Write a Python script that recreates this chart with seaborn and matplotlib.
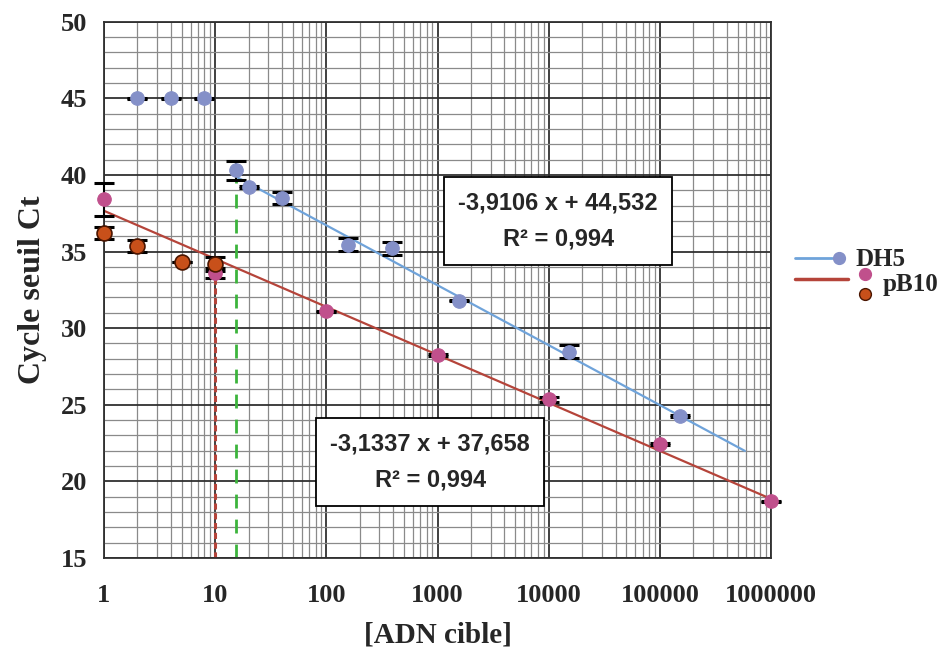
import numpy as np
import pandas as pd
import matplotlib
matplotlib.use("Agg")
import matplotlib.pyplot as plt
import matplotlib.ticker as mticker
from matplotlib.lines import Line2D
import seaborn as sns

# --- données ---
dh5_x = [2, 4, 8, 15.5, 20, 40, 157, 390, 1560, 15200, 151000]
dh5_ct = [45, 45, 45, 40.3, 39.2, 38.5, 35.45, 35.2, 31.8, 28.45, 24.25]
dh5_err = [0.05, 0.05, 0.05, 0.6, 0.05, 0.4, 0.42, 0.42, 0.05, 0.42, 0.05]

pb10_x = [1, 10, 100, 1000, 10000, 100000, 1000000]
pb10_ct = [38.4, 33.6, 31.1, 28.25, 25.35, 22.45, 18.7]
pb10_err = [1.05, 0.35, 0.05, 0.05, 0.15, 0.05, 0.05]

pb10b_x = [1, 2, 5, 10]
pb10b_ct = [36.2, 35.35, 34.3, 34.2]
pb10b_err = [0.4, 0.4, 0.0, 0.45]

# droites de tendance (Ct = a * log10(x) + b)
dh5_fit = (-3.9106, 44.532)
pb10_fit = (-3.1337, 37.658)
dh5_fit_range = [15.5, 582000]
pb10_fit_range = [1, 1000000]

# lignes de lecture verticales
ref_red = (10, 33.6)
ref_green = (15.5, 39.7)

xticks = [1, 10, 100, 1000, 10000, 100000, 1000000]
xticklabels = ["1", "10", "100", "1000", "10000", "100000", "1000000"]
yticks = [15, 20, 25, 30, 35, 40, 45, 50]

c_dh5 = "#8490C8"
c_dh5_line = "#6FA3DA"
c_pb10 = "#C0508C"
c_pb10b = "#C8501A"
c_red_line = "#B5443A"
c_green = "#3CB43C"

sns.set_style("white")
plt.rcParams["font.family"] = ["Liberation Serif", "DejaVu Serif"]

fig = plt.figure(figsize=(9.48, 6.55), dpi=100)
ax = fig.add_axes([0.1097, 0.1481, 0.7036, 0.8188])

ax.set_xscale("log")
ax.set_xlim(1, 1000000)
ax.set_ylim(15, 50)

# grille
ax.xaxis.set_minor_locator(mticker.LogLocator(base=10, subs=np.arange(2, 10)))
ax.yaxis.set_minor_locator(mticker.MultipleLocator(1))
ax.grid(which="major", color="#303030", lw=1.3, zorder=0)
ax.grid(which="minor", color="#8a8a8a", lw=0.9, zorder=0)
ax.set_axisbelow(True)
for s in ax.spines.values():
    s.set_color("#303030")
    s.set_linewidth(1.3)

# lignes de lecture
ax.plot([ref_red[0], ref_red[0]], [15, ref_red[1]], color=c_red_line, lw=2.2,
        ls=(0, (2, 1.2)), zorder=2)
ax.plot([ref_green[0], ref_green[0]], [15, ref_green[1]], color=c_green, lw=2,
        ls=(0, (5, 4)), zorder=2)

# droites de tendance
for fit, rng, col in [(dh5_fit, dh5_fit_range, c_dh5_line), (pb10_fit, pb10_fit_range, c_red_line)]:
    df_fit = pd.DataFrame({"x": rng, "y": [fit[0] * np.log10(v) + fit[1] for v in rng]})
    sns.lineplot(data=df_fit, x="x", y="y", color=col, lw=1.6, ax=ax, zorder=3)

# barres d'erreur (sous les points)
for xs, ys, es in [(dh5_x, dh5_ct, dh5_err), (pb10_x, pb10_ct, pb10_err), (pb10b_x, pb10b_ct, pb10b_err)]:
    ax.errorbar(xs, ys, yerr=es, fmt="none", ecolor="black", elinewidth=1.5,
                capsize=7, capthick=2.2, zorder=3.5, clip_on=False)

# points
df_dh5 = pd.DataFrame({"x": dh5_x, "ct": dh5_ct})
df_pb10 = pd.DataFrame({"x": pb10_x, "ct": pb10_ct})
df_pb10b = pd.DataFrame({"x": pb10b_x, "ct": pb10b_ct})

sns.scatterplot(data=df_dh5, x="x", y="ct", color=c_dh5, s=95, edgecolor=c_dh5,
                ax=ax, zorder=4, clip_on=False)
sns.scatterplot(data=df_pb10, x="x", y="ct", color=c_pb10, s=95, edgecolor=c_pb10,
                ax=ax, zorder=4, clip_on=False)
sns.scatterplot(data=df_pb10b, x="x", y="ct", color=c_pb10b, s=115, edgecolor="#4a1500",
                linewidth=1.2, ax=ax, zorder=4, clip_on=False)

# axes
ax.set_xticks(xticks)
ax.set_xticklabels(xticklabels)
ax.set_yticks(yticks)
ax.tick_params(axis="both", which="major", direction="out", length=5, width=1.2,
               color="#303030", labelsize=19)
ax.tick_params(axis="x", which="major", pad=14)
ax.tick_params(axis="y", which="major", pad=7)
ax.tick_params(axis="both", which="minor", direction="out", length=3, width=0.8, color="#8a8a8a")
for lab in ax.get_xticklabels() + ax.get_yticklabels():
    lab.set_fontweight("bold")

ax.set_xlabel("[ADN cible]", fontsize=21, fontweight="bold", labelpad=10)
ax.set_ylabel("Cycle seuil Ct", fontsize=23, fontweight="bold", labelpad=10)

# équations
box = dict(boxstyle="square,pad=0.6", fc="white", ec="black", lw=1.3)
ax.text(0.681, 0.628, "-3,9106 x + 44,532\nR² = 0,994", transform=ax.transAxes,
        ha="center", va="center", ma="center", fontsize=17, fontweight="bold",
        family=["Liberation Sans", "DejaVu Sans"], linespacing=1.75, bbox=box, zorder=6)
ax.text(0.489, 0.1786, "-3,1337 x + 37,658\nR² = 0,994", transform=ax.transAxes,
        ha="center", va="center", ma="center", fontsize=17, fontweight="bold",
        family=["Liberation Sans", "DejaVu Sans"], linespacing=1.75, bbox=box, zorder=6)

# légende
fig.add_artist(Line2D([0.8386, 0.8776], [0.606, 0.606], color=c_dh5_line, lw=2, transform=fig.transFigure))
fig.add_artist(Line2D([0.8850], [0.606], marker="o", ms=8.5, color=c_dh5, lw=0, transform=fig.transFigure))
fig.text(0.902, 0.604, "DH5", fontsize=18, fontweight="bold", va="center", ha="left")

fig.add_artist(Line2D([0.8386, 0.8945], [0.574, 0.574], color=c_red_line, lw=2.5, transform=fig.transFigure))
fig.add_artist(Line2D([0.9125], [0.581], marker="o", ms=8.5, color=c_pb10, lw=0, transform=fig.transFigure))
fig.add_artist(Line2D([0.9125], [0.551], marker="o", ms=8.5, color=c_pb10b, mec="#4a1500",
                      lw=0, transform=fig.transFigure))
fig.text(0.931, 0.566, "pB10", fontsize=18, fontweight="bold", va="center", ha="left")

fig.savefig("out.png", dpi=100)
